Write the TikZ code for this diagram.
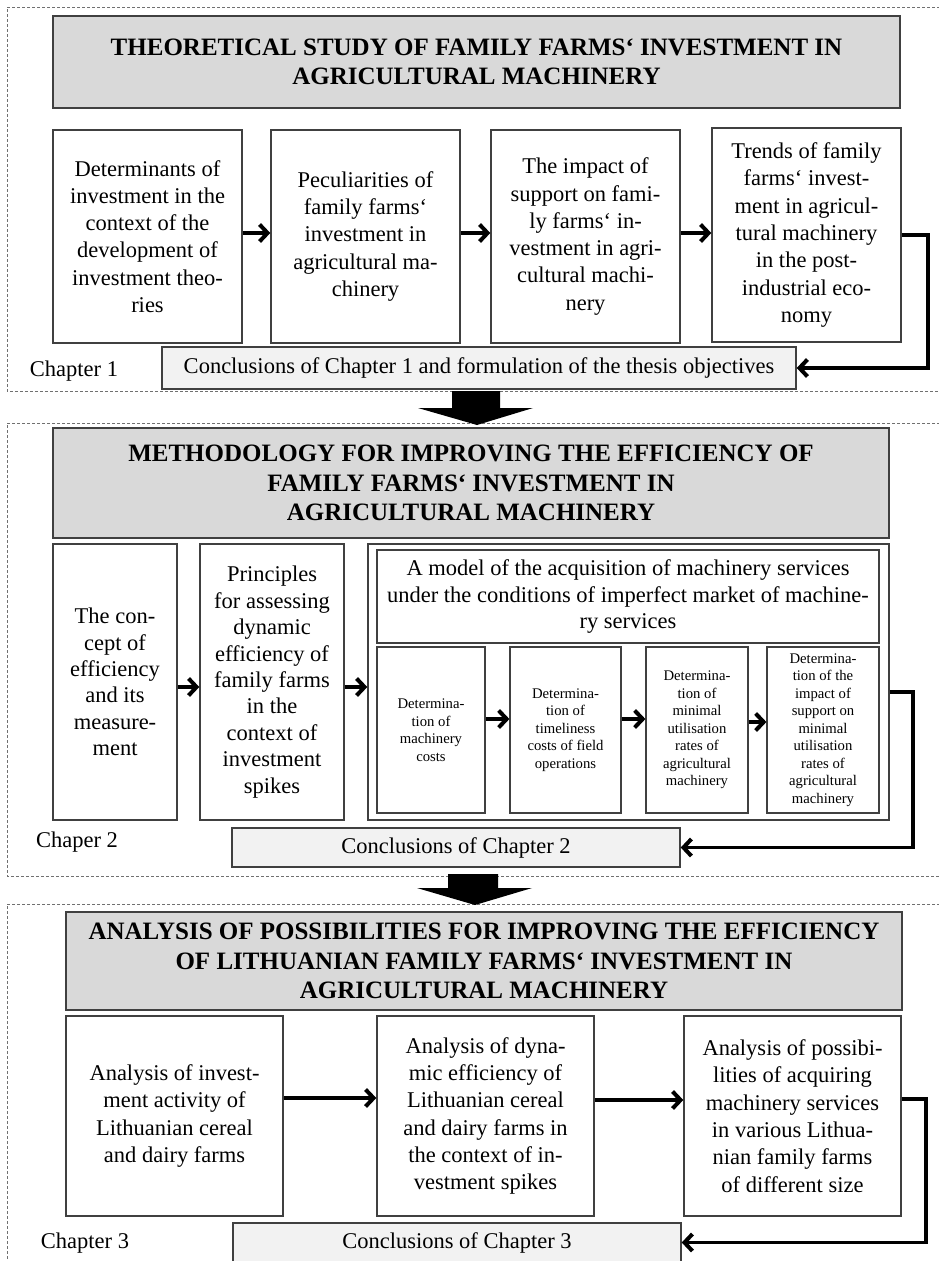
\documentclass[tikz,border=0pt]{standalone}
\usepackage{fontspec}
\setmainfont{Liberation Serif}
\usetikzlibrary{arrows.meta,calc}
\definecolor{titlefill}{HTML}{D9D9D9}
\definecolor{concfill}{HTML}{F2F2F2}
\definecolor{edge}{HTML}{404040}
\definecolor{framegray}{HTML}{707070}
\begin{document}
\begin{tikzpicture}[x=1pt,y=-1pt,
  frame/.style={draw=framegray,line width=0.8pt,dash pattern=on 3pt off 2pt},
  titlebox/.style={draw=edge,line width=1.5pt,fill=titlefill,align=center,inner sep=0pt,
    font={\fontsize{25}{29.5}\selectfont\bfseries}},
  box/.style={draw=edge,line width=1.4pt,fill=white,align=center,inner sep=0pt,
    font={\fontsize{22.5}{27.3}\selectfont}},
  boxb/.style={box,font={\fontsize{22.5}{26.4}\selectfont}},
  smallbox/.style={draw=edge,line width=1.2pt,fill=white,align=center,inner sep=0pt,
    font={\fontsize{14.7}{17.5}\selectfont}},
  concbox/.style={draw=edge,line width=1.4pt,fill=concfill,align=center,inner sep=0pt,
    font={\fontsize{22.5}{27}\selectfont}},
  chaplabel/.style={inner sep=0pt,font={\fontsize{22.5}{27}\selectfont}},
  conn/.style={line width=3.6pt,-{Straight Barb[length=8pt,width=17pt,line width=4pt]}},
  bigarrow/.style={fill=black}
]
\useasboundingbox (0,0) rectangle (938,1261);

% chapter frames
\draw[frame] (950,7) -- (7,7) -- (7,391) -- (950,391);
\draw[frame] (950,423) -- (7,423) -- (7,876) -- (950,876);
\draw[frame] (950,904) -- (7,904) -- (7,1275);

% ---------------- Chapter 1
\node[titlebox,minimum width=847pt,minimum height=92pt] (t1) at (476.5,62)
  {THEORETICAL STUDY OF FAMILY FARMS‘ INVESTMENT IN\\AGRICULTURAL MACHINERY};
\node[box,minimum width=189pt,minimum height=213pt] (c1a) at (147.5,236.5)
  {Determinants of\\investment in the\\context of the\\development of\\investment theo-\\ries};
\node[box,minimum width=189pt,minimum height=213pt] (c1b) at (365.5,236.5)
  {Peculiarities of\\family farms‘\\investment in\\agricultural ma-\\chinery};
\node[box,minimum width=189pt,minimum height=213pt] (c1c) at (585.5,236.5)
  {The impact of\\support on fami-\\ly farms‘ in-\\vestment in agri-\\cultural machi-\\nery};
\node[box,minimum width=189pt,minimum height=214pt] (c1d) at (806.5,235)
  {Trends of family\\farms‘ invest-\\ment in agricul-\\tural machinery\\in the post-\\industrial eco-\\nomy};
\node[concbox,minimum width=634pt,minimum height=42pt] (con1) at (479,368)
  {Conclusions of Chapter 1 and formulation of the thesis objectives};
\node[chaplabel] (lab1) at (74,371) {Chapter 1};

\draw[conn] ([yshift=3.5pt]c1a.east) -- ([yshift=3.5pt]c1b.west);
\draw[conn] ([yshift=3.5pt]c1b.east) -- ([yshift=3.5pt]c1c.west);
\draw[conn] ([yshift=3.5pt]c1c.east) -- ([yshift=2pt]c1d.west);
\draw[conn] (c1d.east) -- ++(26,0) |- (con1.east);

% big arrow 1
\fill[bigarrow] (452,391) -- (500,391) -- (500,408) -- (533,408) -- (477,425)
  -- (418,408) -- (452,408) -- cycle;

% ---------------- Chapter 2
\node[titlebox,minimum width=836pt,minimum height=110pt] (t2) at (471,483)
  {METHODOLOGY FOR IMPROVING THE EFFICIENCY OF\\FAMILY FARMS‘ INVESTMENT IN\\AGRICULTURAL MACHINERY};
\node[boxb,minimum width=124pt,minimum height=276pt] (c2a) at (115,682)
  {The con-\\cept of\\efficiency\\and its\\measure-\\ment};
\node[boxb,minimum width=144pt,minimum height=276pt] (c2b) at (272,682)
  {Principles\\for assessing\\dynamic\\efficiency of\\family farms\\in the\\context of\\investment\\spikes};
\node[box,minimum width=521pt,minimum height=276pt] (c2c) at (628.5,682) {};
\node[boxb,minimum width=502pt,minimum height=93pt,line width=1.2pt] (model) at (628,596.5)
  {A model of the acquisition of machinery services\\under the conditions of imperfect market of machine-\\ry services};
\node[smallbox,minimum width=108pt,minimum height=166pt] (s1) at (431,730)
  {Determina-\\tion of\\machinery\\costs};
\node[smallbox,minimum width=111pt,minimum height=166pt] (s2) at (565.5,730)
  {Determina-\\tion of\\timeliness\\costs of field\\operations};
\node[smallbox,minimum width=102pt,minimum height=166pt] (s3) at (697,730)
  {Determina-\\tion of\\minimal\\utilisation\\rates of\\agricultural\\machinery};
\node[smallbox,minimum width=112pt,minimum height=166pt] (s4) at (823,730)
  {Determina-\\tion of the\\impact of\\support on\\minimal\\utilisation\\rates of\\agricultural\\machinery};
\node[concbox,minimum width=448pt,minimum height=39pt] (con2) at (456,847.5)
  {Conclusions of Chapter 2};
\node[chaplabel] (lab2) at (77,842) {Chaper 2};

\draw[conn] ([yshift=-5pt]c2a.east) -- ([yshift=-5pt]c2b.west);
\draw[conn] ([yshift=-5pt]c2b.east) -- ([yshift=-5pt]c2c.west);
\draw[conn] ([yshift=11pt]s1.east) -- ([yshift=11pt]s2.west);
\draw[conn] ([yshift=11pt]s2.east) -- ([yshift=11pt]s3.west);
\draw[conn] ([yshift=8pt]s3.east) -- ([yshift=8pt]s4.west);
\draw[conn] ([yshift=-10pt]c2c.east) -- ++(23,0) |- (con2.east);

% big arrow 2
\fill[bigarrow] (448,874) -- (498,874) -- (498,888) -- (532,888) -- (475,905)
  -- (417,888) -- (448,888) -- cycle;

% ---------------- Chapter 3
\node[titlebox,minimum width=836pt,minimum height=98pt] (t3) at (484,961)
  {ANALYSIS OF POSSIBILITIES FOR IMPROVING THE EFFICIENCY\\OF LITHUANIAN FAMILY FARMS‘ INVESTMENT IN\\AGRICULTURAL MACHINERY};
\node[box,minimum width=217pt,minimum height=200pt] (b1) at (174.5,1116)
  {Analysis of invest-\\ment activity of\\Lithuanian cereal\\and dairy farms};
\node[box,minimum width=217pt,minimum height=200pt] (b2) at (485.5,1116)
  {Analysis of dyna-\\mic efficiency of\\Lithuanian cereal\\and dairy farms in\\the context of in-\\vestment spikes};
\node[box,minimum width=217pt,minimum height=200pt] (b3) at (792.5,1116)
  {Analysis of possibi-\\lities of acquiring\\machinery services\\in various Lithua-\\nian family farms\\of different size};
\node[concbox,minimum width=448pt,minimum height=39pt] (con3) at (457,1242.5)
  {Conclusions of Chapter 3};
\node[chaplabel] (lab3) at (85,1243) {Chapter 3};

\draw[conn] ([yshift=18pt]b1.east) -- ([yshift=18pt]b2.west);
\draw[conn] ([yshift=16pt]b2.east) -- ([yshift=16pt]b3.west);
\draw[conn] ([yshift=17pt]b3.east) -- ++(24,0) |- (con3.east);
\end{tikzpicture}
\end{document}
